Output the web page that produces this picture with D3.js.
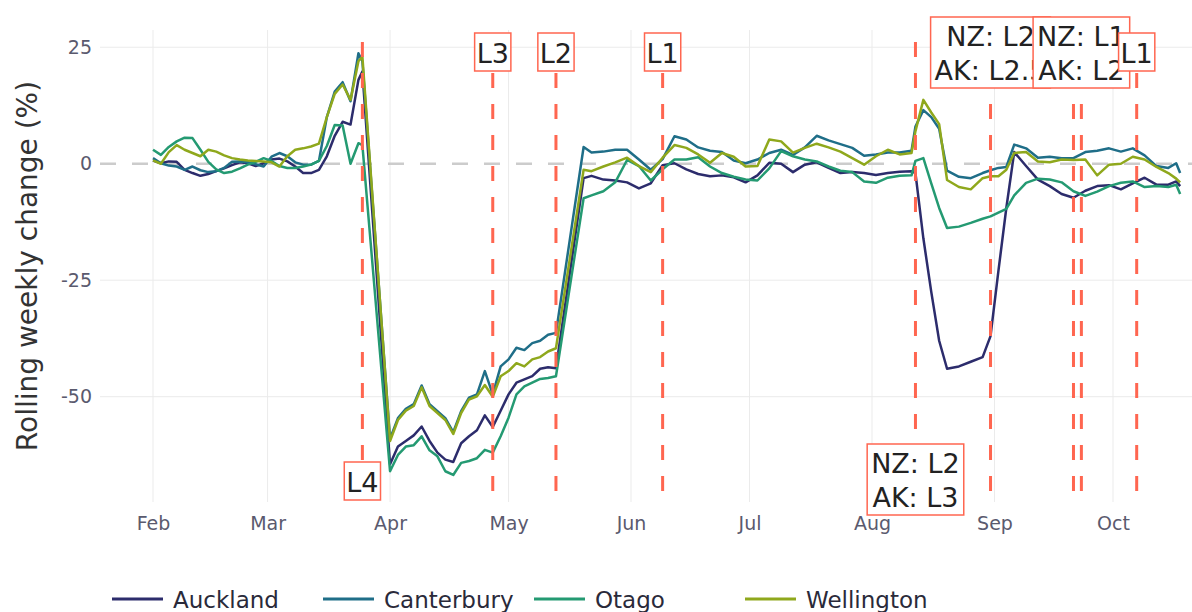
<!DOCTYPE html>
<html>
<head>
<meta charset="utf-8">
<script src="https://cdn.jsdelivr.net/npm/d3@7"></script>
<style>
  body { margin: 0; background: #fff; }
  svg { display: block; font-family: "DejaVu Sans", Verdana, sans-serif; }
</style>
</head>
<body>
<div id="chart"></div>
<script>
const dates = [
  "2020-02-01","2020-02-03","2020-02-05","2020-02-07","2020-02-09","2020-02-11","2020-02-13","2020-02-15",
  "2020-02-17","2020-02-19","2020-02-21","2020-02-23","2020-02-25","2020-02-27","2020-02-29","2020-03-02",
  "2020-03-04","2020-03-06","2020-03-08","2020-03-10","2020-03-12","2020-03-14","2020-03-16","2020-03-18",
  "2020-03-20","2020-03-22","2020-03-24","2020-03-25","2020-04-01","2020-04-03","2020-04-05","2020-04-07",
  "2020-04-09","2020-04-11","2020-04-13","2020-04-15","2020-04-17","2020-04-19","2020-04-21","2020-04-23",
  "2020-04-25","2020-04-27","2020-04-29","2020-05-01","2020-05-03","2020-05-05","2020-05-07","2020-05-09",
  "2020-05-11","2020-05-13","2020-05-20","2020-05-22","2020-05-25","2020-05-28","2020-05-31","2020-06-03",
  "2020-06-06","2020-06-09","2020-06-12","2020-06-15","2020-06-18","2020-06-21","2020-06-24","2020-06-27",
  "2020-06-30","2020-07-03","2020-07-06","2020-07-09","2020-07-12","2020-07-15","2020-07-18","2020-07-21",
  "2020-07-24","2020-07-27","2020-07-30","2020-08-02","2020-08-05","2020-08-08","2020-08-11","2020-08-12",
  "2020-08-14","2020-08-16","2020-08-18","2020-08-20","2020-08-23","2020-08-26","2020-08-29","2020-08-31",
  "2020-09-02","2020-09-04","2020-09-06","2020-09-09","2020-09-12","2020-09-15","2020-09-18","2020-09-21",
  "2020-09-24","2020-09-27","2020-09-30","2020-10-03","2020-10-06","2020-10-09","2020-10-12","2020-10-15",
  "2020-10-17","2020-10-18"
]

const auckland = [
  0.7, 0.1, 0.5, 0.4, -1.3, -2, -2.6, -2.2, -1.6, -1, -0.3, 0.3, 0.1, -0.5, 0.1, 0.9,
  1.1, 0.5, -0.6, -2, -2, -1.3, 1.6, 6, 9, 8.4, 18, 19.8, -64.5, -60.7, -59.5, -58.3,
  -56.4, -59.5, -62, -63.5, -64, -60, -58.5, -57.2, -54, -56.5, -53, -49.5, -47, -46.3, -45.6, -44,
  -43.7, -43.9, -3.1, -2.6, -3.4, -3.6, -4, -5.3, -4.2, -0.3, 0.1, -1.2, -2.2, -2.7, -2.5, -2.9,
  -4, -2.5, 0.2, 0, -1.8, -0.2, 0.3, -0.9, -2, -1.8, -2, -2.4, -2, -1.7, -1.6, -2,
  -16, -27.5, -38, -44, -43.5, -42.5, -41.5, -37, -23, -9.5, 2.5, -0.5, -3.4, -4.8, -6.5, -7.3,
  -5.8, -4.8, -4.6, -5.5, -4.2, -3, -4.5, -4.5, -3.8, -4.8
]

const canterbury = [
  1.2, 0.1, -0.4, -0.6, -1.3, -0.6, -1.4, -1.8, -1.6, -0.9, 0.4, 0.5, 0.3, -0.1, -0.6, 1.5,
  2.3, 1.6, 0.3, -0.2, -0.2, 0.6, 10, 15.5, 17.5, 13.4, 23.7, 22, -59, -54.6, -52.6, -51.6,
  -47.6, -51.6, -53.1, -54.6, -57.6, -53.1, -50.2, -49.5, -44.5, -49.5, -43.5, -42, -39.5, -40, -38.5, -38,
  -36.7, -36.3, 3.6, 2.4, 2.6, 3, 3, 0.9, -1.3, 1, 5.9, 5.2, 3.5, 2.8, 2.5, 0.7,
  0.1, 0.9, 2.3, 3, 1.9, 3.5, 6, 5, 4.2, 3.4, 1.7, 2, 2.4, 2.4, 2.8, 8,
  11.5, 10, 7.5, -1.5, -2.8, -3.1, -2, -1.4, -0.9, -0.7, 4.1, 3.3, 1.3, 1.5, 1.2, 1.2,
  2.5, 2.8, 3.3, 2.6, 3.3, 1.8, -0.5, -0.9, 0.1, -2
]

const otago = [
  3, 1.9, 3.6, 4.8, 5.6, 5.5, 3, 0.4, -1.2, -2, -1.7, -1, -0.2, 0.4, 1.2, 0.6,
  -0.5, -0.9, -0.9, -0.6, -0.2, 0.6, 3.8, 8.3, 8.2, 0, 4.4, 4, -66, -62.5, -60.7, -60.4,
  -58.5, -61.5, -62.8, -66, -66.8, -64.2, -63.8, -63.2, -61.4, -62, -58.5, -54.5, -49.5, -47.8, -47, -46.2,
  -46, -45.6, -7.4, -6.8, -5.9, -4, 0.8, -0.5, -3.6, -1.2, 0.9, 0.9, 1.4, -0.6, -2, -2.8,
  -3.4, -3.6, -1, 2.7, 1.6, 0.9, 0.5, -0.6, -1.5, -1.8, -3.8, -4.1, -3, -2.6, -2.5, 0.6,
  1.2, -4.2, -9.5, -13.8, -13.5, -12.7, -11.8, -11.3, -10.5, -9.7, -6.8, -4.1, -3.2, -3.4, -4, -5.9,
  -6.9, -6, -4.8, -4.1, -3.8, -5, -4.8, -5, -4.5, -6.5
]

const wellington = [
  0.7, 0, 2.5, 4, 3, 2.3, 1.6, 3, 2.6, 1.8, 1.2, 0.9, 0.7, 0.6, 0.5, 0.3,
  -0.6, 1.6, 3, 3.3, 3.7, 4.3, 10, 15, 17, 13.7, 22, 23, -59.5, -55, -53, -52,
  -48, -52, -53.5, -55, -58, -53.5, -50.6, -49.9, -47.5, -50, -45.6, -44.5, -42.8, -43.5, -42, -41.5,
  -40.3, -39.6, -1.3, -1.6, -0.6, 0.3, 1.3, -0.5, -1.8, 1.3, 4, 3.4, 2, 0.2, 2.3, 1.5,
  -0.6, -0.5, 5.2, 4.8, 2.4, 3.4, 4.3, 3.5, 2.6, 1.2, -0.2, 1.6, 3, 2, 2.3, 7,
  13.7, 11, 8.5, -3.5, -5, -5.5, -3.1, -2.7, -2.7, -1.3, 2.3, 2.5, 0.5, 0.3, 0.9, 0.8,
  0.9, -2.5, -0.2, 0, 1.5, 0.9, -0.7, -2, -3.2, -4
]

const seriesNames = ["Auckland", "Canterbury", "Otago", "Wellington"]
const seriesColors = ["#2c2c6c", "#1f6e88", "#249a72", "#8fa81c"]

const monthTicks = ["2020-02-01","2020-03-01","2020-04-01","2020-05-01","2020-06-01",
                    "2020-07-01","2020-08-01","2020-09-01","2020-10-01"]
const yTicks = [25, 0, -25, -50]

// alert level changes (dashed lines) and their labels
const levelDates = ["2020-03-25","2020-04-27","2020-05-13","2020-06-09","2020-08-12",
                    "2020-08-31","2020-09-21","2020-09-23","2020-10-07"]
const noteDates = ["2020-03-25","2020-04-27","2020-05-13","2020-06-09","2020-08-12",
                   "2020-08-31","2020-09-23","2020-10-07"]
const noteText = [["L4"],["L3"],["L2"],["L1"],["NZ: L2","AK: L3"],
                  ["NZ: L2","AK: L2.5"],["NZ: L1","AK: L2"],["L1"]]
const noteSide = ["bottom","top","top","top","bottom","top","top","top"]

drawChart()

function drawChart() {
    const parse = d3.timeParse("%Y-%m-%d")
    const red = "#ff6650"

    const dimensions = {
        width: 1192,
        height: 612,
        margin: { top: 30, right: 0, bottom: 110, left: 100 }
    }
    dimensions.boundedWidth = dimensions.width - dimensions.margin.left - dimensions.margin.right
    dimensions.boundedHeight = dimensions.height - dimensions.margin.top - dimensions.margin.bottom

    const wrapper = d3.select("#chart")
        .append("svg")
            .attr("width", dimensions.width)
            .attr("height", dimensions.height)

    const bounds = wrapper.append("g")
        .attr("transform", `translate(${dimensions.margin.left},${dimensions.margin.top})`)

    const xScale = d3.scaleTime()
        .domain([new Date(2020, 0, 18, 14), new Date(2020, 9, 21)])
        .range([0, dimensions.boundedWidth])

    const yScale = d3.scaleLinear()
        .domain([-72.6, 28.7])
        .range([dimensions.boundedHeight, 0])

    // grid
    bounds.append("g").selectAll("line")
        .data(monthTicks)
        .join("line")
            .attr("x1", d => xScale(parse(d)))
            .attr("x2", d => xScale(parse(d)))
            .attr("y1", 0)
            .attr("y2", dimensions.boundedHeight)
            .attr("stroke", "#ebebeb")
            .attr("stroke-width", 1)

    bounds.append("g").selectAll("line")
        .data(yTicks.filter(d => d !== 0))
        .join("line")
            .attr("x1", 0)
            .attr("x2", dimensions.boundedWidth)
            .attr("y1", d => yScale(d))
            .attr("y2", d => yScale(d))
            .attr("stroke", "#ebebeb")
            .attr("stroke-width", 1)

    bounds.append("line")
        .attr("x1", 0)
        .attr("x2", dimensions.boundedWidth)
        .attr("y1", yScale(0))
        .attr("y2", yScale(0))
        .attr("stroke", "#cccccc")
        .attr("stroke-width", 2.5)
        .attr("stroke-dasharray", "16,16")

    // axes
    const xAxis = bounds.append("g")
        .attr("transform", `translate(0,${dimensions.boundedHeight})`)
        .call(d3.axisBottom(xScale)
            .tickValues(monthTicks.map(parse))
            .tickFormat(d3.timeFormat("%b"))
            .tickSize(0)
            .tickPadding(15))
    xAxis.select(".domain").remove()
    xAxis.selectAll("text")
        .attr("font-size", 19)
        .attr("font-family", "DejaVu Sans, sans-serif")
        .attr("fill", "#5a5a6e")

    const yAxis = bounds.append("g")
        .call(d3.axisLeft(yScale)
            .tickValues(yTicks)
            .tickFormat(d => String(d))   // plain hyphen like the original
            .tickSize(0)
            .tickPadding(8))
    yAxis.select(".domain").remove()
    yAxis.selectAll("text")
        .attr("font-size", 19)
        .attr("font-family", "DejaVu Sans, sans-serif")
        .attr("fill", "#5a5a6e")

    wrapper.append("text")
        .attr("transform", `translate(37,${dimensions.margin.top + dimensions.boundedHeight / 2}) rotate(-90)`)
        .attr("text-anchor", "middle")
        .attr("font-size", 28)
        .attr("fill", "#333")
        .text("Rolling weekly change (%)")

    // series lines
    const allValues = [auckland, canterbury, otago, wellington]
    const lineGenerator = d3.line()
        .x(d => xScale(d.date))
        .y(d => yScale(d.value))

    allValues.forEach((vals, i) => {
        const points = dates.map((d, j) => ({ date: parse(d), value: vals[j] }))
        bounds.append("path")
            .attr("d", lineGenerator(points))
            .attr("fill", "none")
            .attr("stroke", seriesColors[i])
            .attr("stroke-width", 2.5)
            .attr("stroke-linejoin", "round")
    })

    // level change lines
    bounds.append("g").selectAll("line")
        .data(levelDates)
        .join("line")
            .attr("x1", d => xScale(parse(d)))
            .attr("x2", d => xScale(parse(d)))
            .attr("y1", 0)
            .attr("y2", dimensions.boundedHeight)
            .attr("stroke", red)
            .attr("stroke-width", 3)
            .attr("stroke-dasharray", "15,16")
            .attr("stroke-dashoffset", 19)

    // labels in boxes, later ones drawn over earlier ones
    const notes = bounds.append("g")
    noteDates.forEach((d, i) => {
        const cx = xScale(parse(d))
        const lines = noteText[i]
        const multi = lines.length > 1
        let top
        if (noteSide[i] === "top") top = multi ? -13 : 3
        else top = multi ? 414 : 432
        const h = multi ? 71 : 38
        const g = notes.append("g")
        const rect = g.append("rect")
        const txt = g.selectAll("text")
            .data(lines)
            .join("text")
                .attr("x", cx)
                .attr("y", (t, k) => top + (multi ? 29 + k * 34 : 30))
                .attr("text-anchor", "middle")
                .attr("font-size", 27)
                .attr("fill", "#222")
                .text(t => t)
        let w = 0
        txt.each(function() { w = Math.max(w, this.getComputedTextLength()) })
        const pad = multi ? 4 : 2
        rect.attr("x", cx - w / 2 - pad)
            .attr("y", top)
            .attr("width", w + pad * 2)
            .attr("height", h)
            .attr("fill", "#fff")
            .attr("stroke", red)
            .attr("stroke-width", 1.5)
    })

    // legend
    const legend = wrapper.append("g")
        .attr("transform", "translate(112,599)")
    seriesNames.forEach((name, i) => {
        const item = legend.append("g").attr("transform", `translate(${i * 211},0)`)
        item.append("line")
            .attr("x1", 0).attr("x2", 51)
            .attr("stroke", seriesColors[i])
            .attr("stroke-width", 3)
        item.append("text")
            .attr("x", 61)
            .attr("y", 9)
            .attr("font-size", 23)
            .attr("fill", "#2a2a3a")
            .text(name)
    })
}
</script>
</body>
</html>
